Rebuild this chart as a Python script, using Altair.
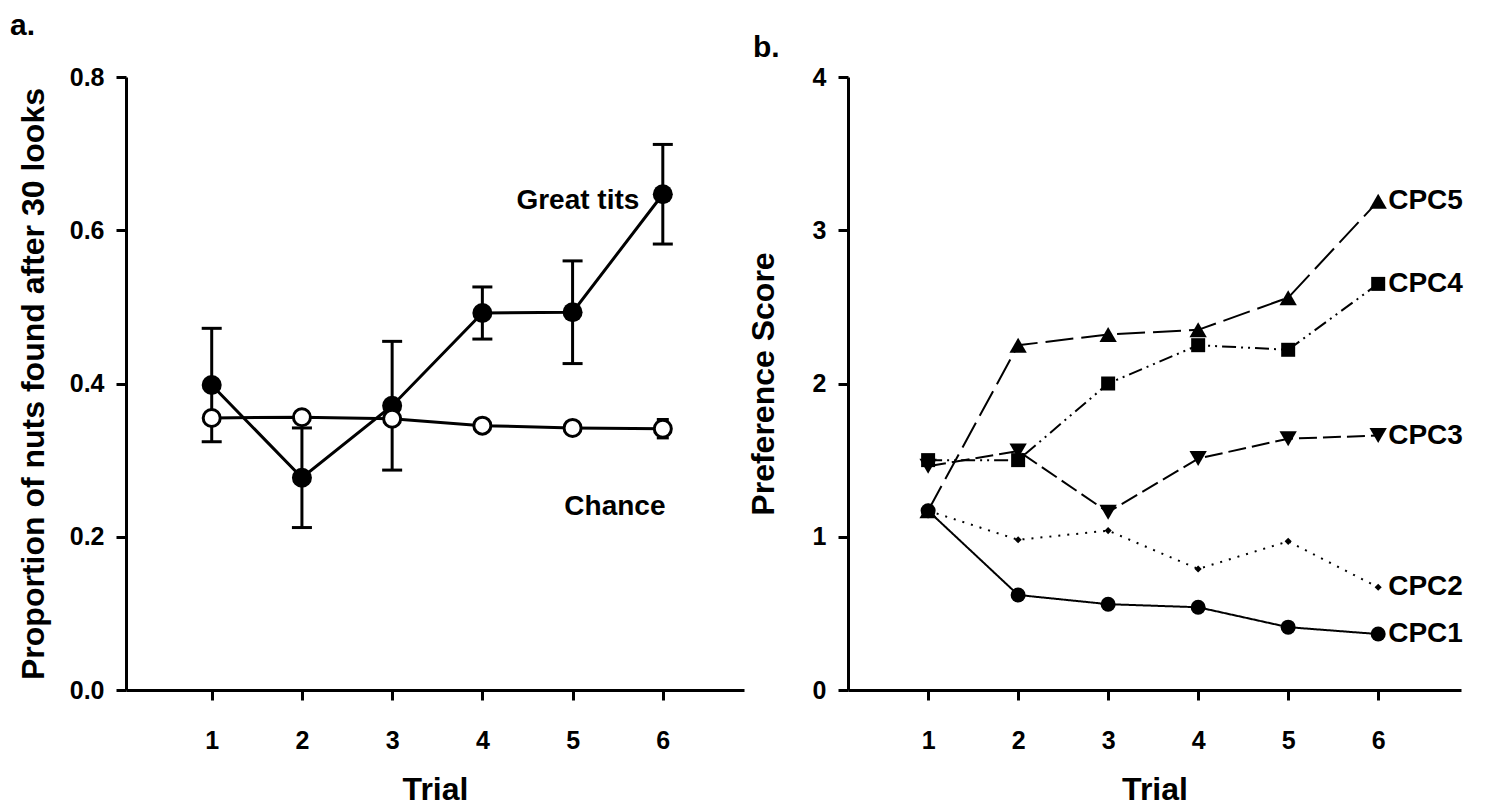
import altair as alt
import pandas as pd

FONT = "Liberation Sans"

# ---------------- data ----------------
trials = [1, 2, 3, 4, 5, 6]

great_tits = [0.398, 0.277, 0.371, 0.492, 0.493, 0.647]
great_tits_err = [0.074, 0.065, 0.084, 0.034, 0.067, 0.065]
chance = [0.355, 0.356, 0.354, 0.345, 0.342, 0.341]
chance_err = [0.006, 0.006, 0.006, 0.006, 0.006, 0.012]

left_label_text = ["Great tits", "Chance"]
left_label_trial = [5.74, 6.03]
left_label_value = [0.638, 0.239]

cpc_names = ["CPC1", "CPC2", "CPC3", "CPC4", "CPC5"]
cpc1 = [1.17, 0.62, 0.56, 0.54, 0.41, 0.365]
cpc2 = [1.17, 0.98, 1.04, 0.79, 0.97, 0.67]
cpc3 = [1.46, 1.56, 1.16, 1.51, 1.64, 1.66]
cpc4 = [1.50, 1.50, 2.00, 2.25, 2.22, 2.65]
cpc5 = [1.17, 2.25, 2.32, 2.35, 2.56, 3.19]

left_y_ticks = [0.0, 0.2, 0.4, 0.6, 0.8]
right_y_ticks = [0, 1, 2, 3, 4]

# ---------------- tables ----------------
gt_df = pd.DataFrame({"trial": trials, "value": great_tits, "err": great_tits_err})
gt_df["lo"] = gt_df["value"] - gt_df["err"]
gt_df["hi"] = gt_df["value"] + gt_df["err"]
ch_df = pd.DataFrame({"trial": trials, "value": chance, "err": chance_err})
ch_df["lo"] = ch_df["value"] - ch_df["err"]
ch_df["hi"] = ch_df["value"] + ch_df["err"]
left_lab_df = pd.DataFrame({"trial": left_label_trial, "value": left_label_value, "text": left_label_text})

series_vals = {"CPC1": cpc1, "CPC2": cpc2, "CPC3": cpc3, "CPC4": cpc4, "CPC5": cpc5}
rows = []
for s in cpc_names:
    for t, v in zip(trials, series_vals[s]):
        rows.append({"trial": t, "value": v, "series": s})
right_df = pd.DataFrame(rows)
right_lab_df = pd.DataFrame({
    "trial": [trials[-1]] * 5,
    "value": [series_vals[s][-1] for s in cpc_names],
    "series": cpc_names,
})

# ---------------- left panel ----------------
def lx(field="trial"):
    return alt.X(f"{field}:Q",
                 scale=alt.Scale(domain=[0.05, 6.9], nice=False, zero=False),
                 axis=alt.Axis(values=trials, format="d", title="Trial"))

def ly(field):
    return alt.Y(f"{field}:Q",
                 scale=alt.Scale(domain=[0, 0.8], nice=False),
                 axis=alt.Axis(values=left_y_ticks, format=".1f",
                               title="Proportion of nuts found after 30 looks",
                               titlePadding=19))

def err_layers(df, cap):
    b = alt.Chart(df)
    bar = b.mark_rule(color="black", strokeWidth=3).encode(x=lx(), y=ly("lo"), y2="hi:Q")
    cap_lo = b.mark_tick(color="black", orient="horizontal", size=cap, thickness=3, opacity=1).encode(x=lx(), y=ly("lo"))
    cap_hi = b.mark_tick(color="black", orient="horizontal", size=cap, thickness=3, opacity=1).encode(x=lx(), y=ly("hi"))
    return [bar, cap_lo, cap_hi]

gt_line = alt.Chart(gt_df).mark_line(color="black", strokeWidth=3).encode(x=lx(), y=ly("value"))
gt_pts = alt.Chart(gt_df).mark_point(filled=True, color="black", size=400, opacity=1).encode(x=lx(), y=ly("value"))
ch_line = alt.Chart(ch_df).mark_line(color="black", strokeWidth=3).encode(x=lx(), y=ly("value"))
ch_pts = alt.Chart(ch_df).mark_point(filled=False, fill="white", stroke="black", strokeWidth=3,
                                      size=290, opacity=1, fillOpacity=1).encode(x=lx(), y=ly("value"))
left_labels = alt.Chart(left_lab_df).mark_text(align="right", baseline="middle", font=FONT,
                                               fontSize=28, fontWeight="bold", color="black").encode(
    x=lx(), y=ly("value"), text="text:N")
a_label = alt.Chart(pd.DataFrame({"t": ["a."]})).mark_text(
    align="left", baseline="alphabetic", font=FONT, fontSize=30, fontWeight="bold", color="black"
).encode(x=alt.value(-116), y=alt.value(-42), text="t:N")

left = alt.layer(
    *err_layers(gt_df, 20), gt_line, gt_pts,
    *err_layers(ch_df, 12), ch_line, ch_pts,
    left_labels, a_label,
).properties(width=618, height=613)

# ---------------- right panel ----------------
def rx():
    return alt.X("trial:Q",
                 scale=alt.Scale(domain=[0.11, 6.92], nice=False, zero=False),
                 axis=alt.Axis(values=trials, format="d", title="Trial"))

def ry():
    return alt.Y("value:Q",
                 scale=alt.Scale(domain=[0, 4], nice=False),
                 axis=alt.Axis(values=right_y_ticks, format="d", title="Preference Score",
                               titlePadding=32))

dash_scale = alt.Scale(domain=cpc_names,
                       range=[[1, 0], [2, 7], [18, 6], [14, 5, 2, 5, 2, 5], [28, 8]])

r_lines = alt.Chart(right_df).mark_line(color="black", strokeWidth=2).encode(
    x=rx(), y=ry(),
    strokeDash=alt.StrokeDash("series:N", scale=dash_scale, legend=None),
    detail="series:N",
)

marker_style = {
    "CPC5": ("triangle-up", 300),
    "CPC3": ("triangle-down", 300),
    "CPC4": ("square", 196),
    "CPC2": ("diamond", 50),
    "CPC1": ("circle", 225),
}
r_pts = []
for s in ["CPC5", "CPC3", "CPC4", "CPC2", "CPC1"]:
    shp, sz = marker_style[s]
    r_pts.append(
        alt.Chart(right_df).transform_filter(alt.datum.series == s)
        .mark_point(filled=True, color="black", opacity=1, shape=shp, size=sz)
        .encode(x=rx(), y=ry())
    )

r_labels = alt.Chart(right_lab_df).mark_text(align="left", baseline="middle", dx=10, font=FONT,
                                             fontSize=28, fontWeight="bold", color="black").encode(
    x=rx(), y=ry(), text="series:N")
b_label = alt.Chart(pd.DataFrame({"t": ["b."]})).mark_text(
    align="left", baseline="alphabetic", font=FONT, fontSize=30, fontWeight="bold", color="black"
).encode(x=alt.value(-95), y=alt.value(-20), text="t:N")

right = alt.layer(r_lines, *r_pts, r_labels, b_label).properties(width=613, height=613)

chart = alt.hconcat(left, right, spacing=104, bounds="flush").properties(
    padding={"left": 2, "top": 3, "right": 5, "bottom": 0}
).configure_view(stroke=None).configure_axis(
    domainColor="black", domainWidth=3, tickColor="black", tickWidth=3, tickSize=10,
    labelFont=FONT, labelFontSize=25, labelFontWeight="bold", labelColor="black", labelPadding=12,
    titleFont=FONT, titleFontSize=32, titleFontWeight="bold", titleColor="black", grid=False,
).configure_axisX(labelPadding=28, titlePadding=21)

chart.save("out.html", embed_options={"renderer": "svg", "actions": False})
